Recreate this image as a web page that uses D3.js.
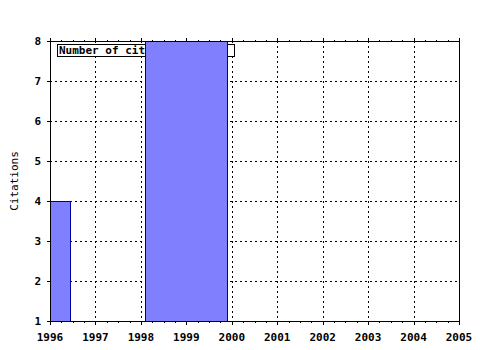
<!DOCTYPE html>
<html><head><meta charset="utf-8">
<script src="https://cdn.jsdelivr.net/npm/d3@7"></script>
<style>body{margin:0;background:#fff}svg{display:block}</style>
</head><body>
<script>
const barStart = [1995.55, 1998.1];
const barEnd = [1996.45, 1999.9];
const barValues = [4, 8];
const xTicks = [1996, 1997, 1998, 1999, 2000, 2001, 2002, 2003, 2004, 2005];
const yTicks = [1, 2, 3, 4, 5, 6, 7, 8];
const legendLabel = "Number of citations";
const yLabel = "Citations";

const W = 480, H = 350;
const L = 50, R = 459, T = 41, B = 321;
const svg = d3.select("body").append("svg").attr("width", W).attr("height", H);
const x = d3.scaleLinear().domain([1996, 2005]).range([L, R]);
const y = d3.scaleLinear().domain([1, 8]).range([B, T]);
const font = "'DejaVu Sans Mono', monospace";

svg.append("defs").append("clipPath").attr("id", "clip")
  .append("rect").attr("x", L).attr("y", T).attr("width", R - L).attr("height", B - T);

// grid
const grid = svg.append("g").attr("stroke", "#000").attr("stroke-dasharray", "2,3").attr("shape-rendering", "crispEdges");
xTicks.slice(1, -1).forEach(v => grid.append("line").attr("x1", Math.round(x(v)) + 0.5).attr("x2", Math.round(x(v)) + 0.5).attr("y1", T).attr("y2", B));
yTicks.slice(1, -1).forEach(v => grid.append("line").attr("y1", Math.round(y(v)) + 0.5).attr("y2", Math.round(y(v)) + 0.5).attr("x1", L).attr("x2", R));

// legend
const lg = svg.append("g");
lg.append("rect").attr("x", 57.5).attr("y", 44.5).attr("width", 177).attr("height", 12).attr("fill", "#fff").attr("stroke", "#000").attr("shape-rendering", "crispEdges");
lg.append("text").attr("x", 59).attr("y", 54).attr("font-family", font).attr("font-weight", "bold").attr("font-size", 11).text(legendLabel);

// bars
svg.append("g").attr("clip-path", "url(#clip)").selectAll("rect").data(barValues).join("rect")
  .attr("x", (d, i) => Math.round(x(barStart[i])) + 0.5)
  .attr("width", (d, i) => Math.round(x(barEnd[i])) - Math.round(x(barStart[i])))
  .attr("y", d => Math.round(y(d)) + 0.5)
  .attr("height", d => Math.round(y(1)) - Math.round(y(d)))
  .attr("fill", "#8080ff").attr("stroke", "#0000a0").attr("shape-rendering", "crispEdges");

// axes (gnuplot-style border with ticks)
const ax = svg.append("g").attr("stroke", "#000").attr("shape-rendering", "crispEdges");
ax.append("rect").attr("x", L + 0.5).attr("y", T + 0.5).attr("width", R - L).attr("height", B - T).attr("fill", "none");
const minor = [];
for (let i = 0; i < xTicks.length - 1; i++) for (let k = 1; k < 4; k++) minor.push(xTicks[i] + k * 0.25);
xTicks.forEach(v => {
  const px = Math.round(x(v)) + 0.5;
  ax.append("line").attr("x1", px).attr("x2", px).attr("y1", B).attr("y2", B + 4);
  ax.append("line").attr("x1", px).attr("x2", px).attr("y1", T + 1).attr("y2", T - 3);
});
minor.forEach(v => {
  const px = Math.round(x(v)) + 0.5;
  ax.append("line").attr("x1", px).attr("x2", px).attr("y1", B).attr("y2", B + 2);
  ax.append("line").attr("x1", px).attr("x2", px).attr("y1", T + 1).attr("y2", T - 1);
});
yTicks.forEach(v => {
  const py = Math.round(y(v)) + 0.5;
  ax.append("line").attr("x1", L - 3).attr("x2", L).attr("y1", py).attr("y2", py);
});

// labels
const lab = svg.append("g").attr("font-family", font).attr("font-weight", "bold").attr("font-size", 11).attr("fill", "#000");
xTicks.forEach(v => lab.append("text").attr("x", x(v)).attr("y", 341).attr("text-anchor", "middle").text(v));
yTicks.forEach(v => lab.append("text").attr("x", 41).attr("y", y(v) + 4).attr("text-anchor", "end").text(v));
svg.append("text").attr("transform", "translate(18,181) rotate(-90)").attr("text-anchor", "middle")
  .attr("font-family", font).attr("font-size", 11).text(yLabel);
</script>
</body></html>
